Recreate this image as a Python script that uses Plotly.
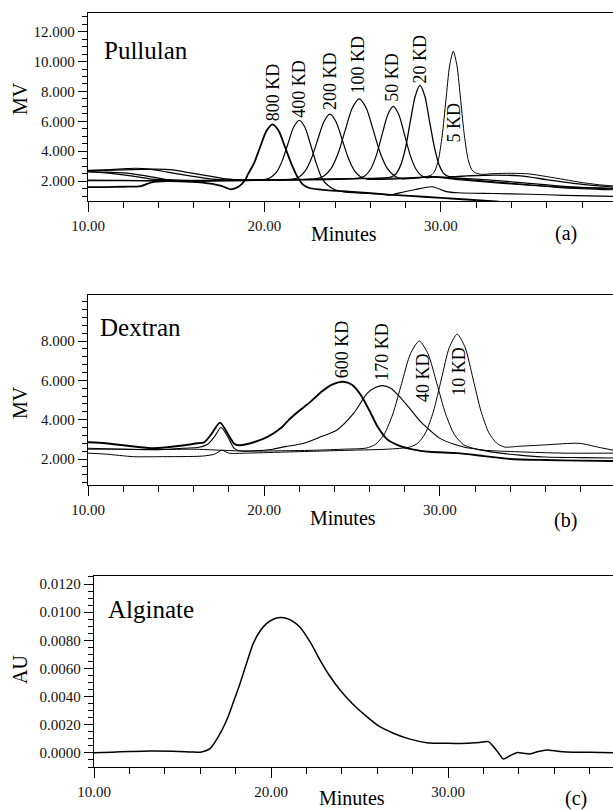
import plotly.graph_objects as go

# ---------------- Panel (a) Pullulan standards ----------------
pul_800_x = [10, 11, 12, 13, 13.6, 14.5, 15.5, 16.5, 17.5, 18.1, 18.5, 18.9, 19.06, 19.41, 19.76, 20.11, 20.46,
             20.81, 21.16, 21.51, 21.86, 22.2, 22.6, 23.5, 25.0, 27.0, 29.0, 31.0, 33.3]
pul_800_y = [1.6, 1.6, 1.62, 1.66, 1.92, 2.0, 1.97, 1.9, 1.7, 1.45, 1.6, 2.05, 2.45, 3.2, 4.3, 5.35, 5.8,
             5.35, 4.3, 3.2, 2.3, 1.75, 1.52, 1.4, 1.28, 1.1, 0.95, 0.8, 0.62]

pul_400_x = [10, 11, 12, 13, 13.5, 15, 16.5, 18, 19.5, 20.05, 20.37, 20.69, 21.01, 21.33, 21.65, 21.97, 22.29,
             22.61, 22.93, 23.25, 23.6, 24.0, 24.5, 25.5, 26.5, 27.1, 27.6, 28.5, 29.5, 30.3, 31.0, 33.0, 35.0,
             37.0, 39.75]
pul_400_y = [2.65, 2.55, 2.42, 2.25, 2.15, 2.05, 2.0, 2.05, 2.07, 2.11, 2.25, 2.61, 3.37, 4.5, 5.6, 6.07, 5.6,
             4.45, 3.2, 2.2, 1.7, 1.42, 1.27, 1.2, 1.14, 1.06, 1.2, 1.42, 1.62, 1.3, 1.22, 1.17, 1.12, 1.05, 0.97]

pul_200_x = [10, 11, 12, 12.7, 13.5, 14.5, 15.5, 16.5, 17.5, 19, 20.5, 21.61, 21.96, 22.31, 22.66, 23.01, 23.36,
             23.71, 24.06, 24.41, 24.76, 25.11, 25.46, 25.81, 26.5, 27.5, 28.5, 29.5, 31, 33, 35, 37, 39.75]
pul_200_y = [2.7, 2.75, 2.82, 2.86, 2.8, 2.6, 2.4, 2.22, 2.1, 2.07, 2.08, 2.13, 2.27, 2.68, 3.51, 4.75, 5.96,
             6.48, 5.96, 4.75, 3.51, 2.68, 2.27, 2.13, 2.12, 2.15, 2.2, 2.28, 2.1, 1.9, 1.72, 1.6, 1.5]

pul_100_x = [10, 11, 12, 13, 14, 14.5, 16, 18, 20, 22.0, 22.97, 23.37, 23.77, 24.17, 24.57, 24.97, 25.37, 25.77,
             26.17, 26.57, 26.97, 27.37, 27.77, 28.5, 29.5, 31, 33, 35, 37, 39.75]
pul_100_y = [2.62, 2.6, 2.55, 2.4, 2.2, 2.1, 2.05, 2.05, 2.07, 2.1, 2.16, 2.34, 2.83, 3.85, 5.38, 6.87, 7.5, 6.87,
             5.38, 3.85, 2.83, 2.34, 2.16, 2.2, 2.3, 2.15, 1.95, 1.75, 1.55, 1.42]

pul_50_x = [10, 12, 14, 16, 18, 20, 22, 24, 25.38, 25.7, 26.02, 26.34, 26.66, 26.98, 27.3, 27.62, 27.94, 28.26,
            28.58, 28.9, 29.22, 29.6, 31, 33, 35, 37, 39.75]
pul_50_y = [2.07, 2.05, 2.03, 2.0, 2.02, 2.05, 2.08, 2.12, 2.2, 2.36, 2.81, 3.72, 5.09, 6.43, 7.0, 6.43, 5.09, 3.72,
            2.81, 2.36, 2.22, 2.28, 2.2, 2.05, 1.85, 1.65, 1.5]

pul_20_x = [10, 11, 12, 13, 13.8, 14.8, 15.8, 16.8, 17.8, 19, 21, 23, 25, 26.5, 27.16, 27.44, 27.71, 27.99, 28.26,
            28.54, 28.81, 29.09, 29.36, 29.64, 29.91, 30.19, 30.46, 31.5, 33, 34.5, 36, 37.5, 39.75]
pul_20_y = [2.72, 2.72, 2.75, 2.78, 2.8, 2.75, 2.55, 2.35, 2.15, 2.08, 2.1, 2.13, 2.17, 2.2, 2.27, 2.47, 3.04, 4.21,
            5.96, 7.67, 8.4, 7.67, 5.96, 4.21, 3.04, 2.47, 2.3, 2.35, 2.4, 2.35, 2.1, 1.85, 1.6]

pul_5_x = [10, 12, 14, 16, 18, 20, 22, 24, 26, 28, 29.0, 29.44, 29.65, 29.86, 30.07, 30.28, 30.49, 30.7, 30.91,
           31.12, 31.33, 31.54, 31.75, 31.96, 32.3, 33, 34, 35, 36, 37, 38, 39, 39.75]
pul_5_y = [2.02, 2.02, 2.0, 2.02, 2.05, 2.07, 2.1, 2.13, 2.17, 2.22, 2.28, 2.39, 2.67, 3.44, 5.03, 7.39, 9.71, 10.7,
           9.71, 7.39, 5.03, 3.44, 2.75, 2.55, 2.45, 2.5, 2.52, 2.48, 2.3, 2.1, 1.9, 1.75, 1.68]

pul_labels = ["800 KD", "400 KD", "200 KD", "100 KD", "50 KD", "20 KD", "5 KD"]
pul_label_x = [20.52, 21.98, 23.71, 25.3, 27.25, 28.81, 30.75]
pul_label_y = [7.93, 8.2, 8.69, 9.8, 8.95, 10.2, 5.93]

# ---------------- Panel (b) Dextran standards ----------------
dex_600_x = [10, 11, 12, 13, 13.6, 14.5, 15.5, 16.2, 16.6, 17.0, 17.5, 17.9, 18.3, 18.6, 19.0, 19.5, 20.2, 21.0,
             21.4, 22.0, 22.65, 23.3, 23.9, 24.5, 25.0, 25.5, 26.0, 26.45, 27.0, 27.6, 28.5, 29.4, 31, 32.5, 34,
             36, 38, 39.85]
dex_600_y = [2.85, 2.8, 2.7, 2.6, 2.55, 2.6, 2.7, 2.8, 2.85, 3.25, 3.85, 3.35, 2.78, 2.7, 2.75, 2.88, 3.13, 3.6,
             3.98, 4.45, 4.92, 5.45, 5.8, 5.93, 5.78, 5.26, 4.45, 3.65, 3.0, 2.71, 2.48, 2.37, 2.3, 2.15, 2.0,
             1.95, 1.92, 1.9]

dex_170_x = [10, 12, 14, 15.5, 16.3, 16.8, 17.2, 17.55, 17.9, 18.3, 18.6, 19.5, 20.5, 21.2, 22.26, 23.22, 24.15,
             25.1, 25.86, 26.3, 26.73, 27.2, 27.78, 28.3, 28.9, 29.5, 30.0, 30.8, 31.4, 31.95, 33, 34.5, 36, 38,
             39.85]
dex_170_y = [2.55, 2.5, 2.48, 2.55, 2.6, 2.75, 3.15, 3.6, 3.2, 2.55, 2.42, 2.42, 2.5, 2.63, 2.8, 3.13, 3.48,
             4.33, 5.34, 5.62, 5.73, 5.6, 5.1, 4.55, 3.9, 3.4, 3.05, 2.75, 2.6, 2.52, 2.35, 2.2, 2.1, 2.07, 2.05]

dex_40_x = [10, 12, 14, 16, 17.5, 19, 21, 23, 24.5, 25.82, 26.32, 26.82, 27.32, 27.82, 28.32, 28.82, 29.32, 29.82,
            30.32, 30.82, 31.32, 31.82, 32.5, 33.5, 35, 37, 39.85]
dex_40_y = [2.5, 2.5, 2.48, 2.5, 2.45, 2.4, 2.42, 2.45, 2.5, 2.56, 2.74, 3.24, 4.29, 5.84, 7.35, 8.0, 7.35, 5.84,
            4.29, 3.24, 2.74, 2.56, 2.45, 2.4, 2.35, 2.3, 2.3]

dex_10_x = [10, 11, 12.6, 14, 16.5, 17.2, 17.6, 18.0, 19, 21, 23, 25, 27, 28.28, 28.73, 29.18, 29.63, 30.08,
            30.53, 30.98, 31.43, 31.88, 32.33, 32.78, 33.23, 33.68, 34.5, 36, 37.9, 39, 39.85]
dex_10_y = [2.3, 2.25, 2.12, 2.12, 2.15, 2.25, 2.45, 2.3, 2.3, 2.35, 2.4, 2.45, 2.5, 2.61, 2.8, 3.33, 4.43, 6.07,
            7.67, 8.35, 7.67, 6.07, 4.43, 3.33, 2.8, 2.61, 2.65, 2.72, 2.8, 2.6, 2.45]

dex_labels = ["600 KD", "170 KD", "40 KD", "10 KD"]
dex_label_x = [24.4, 26.72, 29.04, 31.03]
dex_label_y = [7.6, 7.47, 6.12, 6.45]

# ---------------- Panel (c) Alginate ----------------
alg_x = [10, 11, 12, 13.15, 14.5, 15.5, 16.0, 16.55, 17.0, 17.5, 17.9, 18.25, 18.6, 19.0, 19.4, 19.76, 20.1,
         20.51, 20.9, 21.3, 21.64, 22.2, 22.77, 23.3, 23.9, 24.6, 25.41, 26.1, 26.91, 27.8, 28.8, 30.0, 31.06,
         31.8, 32.28, 32.56, 32.85, 33.12, 33.5, 33.88, 34.25, 34.63, 35.1, 35.58, 36.2, 36.7, 38.0, 39.32]
alg_y = [0.00002, 0.00005, 0.0001, 0.00014, 0.00012, 0.00007, 0.00005, 0.0003, 0.0011, 0.00234, 0.0037, 0.00494,
         0.0063, 0.00778, 0.0087, 0.0092, 0.00948, 0.00962, 0.00955, 0.0093, 0.00893, 0.0079, 0.0066, 0.0055,
         0.00447, 0.0035, 0.00258, 0.0019, 0.0014, 0.001, 0.00073, 0.00068, 0.00069, 0.00075, 0.0008, 0.00045,
         0.0000, -0.00043, -0.0002, 0.00002, -0.00002, -0.00007, 0.0001, 0.00021, 0.00012, 0.00007, 0.00004,
         0.00002]

x_tick_vals = [10, 20, 30]
pul_y_ticks = [2, 4, 6, 8, 10, 12]
dex_y_ticks = [2, 4, 6, 8]
alg_y_ticks = [0.0, 0.002, 0.004, 0.006, 0.008, 0.010, 0.012]

FONT = "Liberation Serif"
W, H = 613, 810

fig = go.Figure()


def add_line(x, y, xa, ya, width):
    fig.add_trace(go.Scatter(x=x, y=y, mode="lines", xaxis=xa, yaxis=ya,
                             line=dict(color="black", width=width, shape="spline", smoothing=0.7),
                             showlegend=False, hoverinfo="skip"))


pul_series = [(pul_800_x, pul_800_y, 1.8), (pul_400_x, pul_400_y, 1.2), (pul_200_x, pul_200_y, 1.2),
              (pul_100_x, pul_100_y, 1.2), (pul_50_x, pul_50_y, 1.2), (pul_20_x, pul_20_y, 1.3),
              (pul_5_x, pul_5_y, 1.0)]
for xs, ys, w in pul_series:
    add_line(xs, ys, "x", "y", w)

dex_series = [(dex_600_x, dex_600_y, 1.9), (dex_170_x, dex_170_y, 1.1), (dex_40_x, dex_40_y, 1.0),
              (dex_10_x, dex_10_y, 1.0)]
for xs, ys, w in dex_series:
    add_line(xs, ys, "x2", "y2", w)

add_line(alg_x, alg_y, "x3", "y3", 1.5)


def px_x(p):
    return p / W


def px_y(p):
    return 1 - p / H


ytickfont = dict(family=FONT, size=15, color="#111")
xtickfont = dict(family=FONT, size=15, color="#111")


def xaxis(dom_left, rng, anchor):
    return dict(domain=[px_x(dom_left), 1.0], range=rng, anchor=anchor, automargin=False, showline=True,
                linecolor="black", linewidth=1.3, mirror=True, showgrid=False, zeroline=False,
                ticks="outside", ticklen=10, tickcolor="black", tickwidth=1, tickmode="array",
                tickvals=x_tick_vals, tickformat=".2f", tickfont=xtickfont, ticklabelstandoff=1,
                minor=dict(ticks="outside", dtick=2, tick0=10, ticklen=6, tickcolor="black", tickwidth=1,
                           showgrid=False))


def yaxis(top, bottom, rng, anchor, tickvals, fmt, minor_dt, minor_t0):
    return dict(domain=[px_y(bottom), px_y(top)], range=rng, anchor=anchor, automargin=False, showline=True,
                linecolor="black", linewidth=1.3, showgrid=False, zeroline=False, ticks="outside", ticklen=9,
                tickcolor="black", tickwidth=1, tickmode="array", tickvals=tickvals, tickformat=fmt,
                tickfont=ytickfont,
                minor=dict(ticks="outside", dtick=minor_dt, tick0=minor_t0, ticklen=5, tickcolor="black",
                           tickwidth=1, showgrid=False))


fig.update_layout(
    width=W, height=H, autosize=False,
    margin=dict(l=0, r=0, t=0, b=0, autoexpand=False),
    paper_bgcolor="white", plot_bgcolor="white",
    xaxis=xaxis(88, [10, 39.75], "y"),
    yaxis=yaxis(13, 201, [0.667, 13.25], "x", pul_y_ticks, ".3f", 0.5, 0),
    xaxis2=xaxis(88, [10, 39.83], "y2"),
    yaxis2=yaxis(295, 485, [0.68, 10.34], "x2", dex_y_ticks, ".3f", 0.4, 0),
    xaxis3=xaxis(94, [10, 39.32], "y3"),
    yaxis3=yaxis(576, 767, [-0.001, 0.01257], "x3", alg_y_ticks, ".4f", 0.0005, 0),
)

annotations = []
for t, xv, yv in zip(pul_labels, pul_label_x, pul_label_y):
    annotations.append(dict(text=t, x=xv, y=yv, xref="x", yref="y", textangle=-90, showarrow=False,
                            font=dict(family=FONT, size=18, color="black"), xanchor="center", yanchor="middle"))
for t, xv, yv in zip(dex_labels, dex_label_x, dex_label_y):
    annotations.append(dict(text=t, x=xv, y=yv, xref="x2", yref="y2", textangle=-90, showarrow=False,
                            font=dict(family=FONT, size=18, color="black"), xanchor="center", yanchor="middle"))

annotations += [
    dict(text="Pullulan", x=10.79, y=10.73, xref="x", yref="y", xanchor="left", yanchor="middle",
         showarrow=False, font=dict(family=FONT, size=25, color="black")),
    dict(text="Dextran", x=10.57, y=8.67, xref="x2", yref="y2", xanchor="left", yanchor="middle",
         showarrow=False, font=dict(family=FONT, size=25, color="black")),
    dict(text="Alginate", x=10.68, y=0.01021, xref="x3", yref="y3", xanchor="left", yanchor="middle",
         showarrow=False, font=dict(family=FONT, size=25, color="black")),
]

side_texts = [
    ("Minutes", 344, 234, 0), ("(a)", 566, 233, 0), ("MV", 20, 99, -90),
    ("Minutes", 343, 518, 0), ("(b)", 565, 520, 0), ("MV", 20, 403, -90),
    ("Minutes", 352, 798, 0), ("(c)", 576, 798, 0), ("AU", 20, 670, -90),
]
for t, px, py, ang in side_texts:
    annotations.append(dict(text=t, x=px_x(px), y=px_y(py), xref="paper", yref="paper", textangle=ang,
                            showarrow=False, xanchor="center", yanchor="middle",
                            font=dict(family=FONT, size=20, color="black")))

fig.update_layout(annotations=annotations)

fig.write_html("out.html")
